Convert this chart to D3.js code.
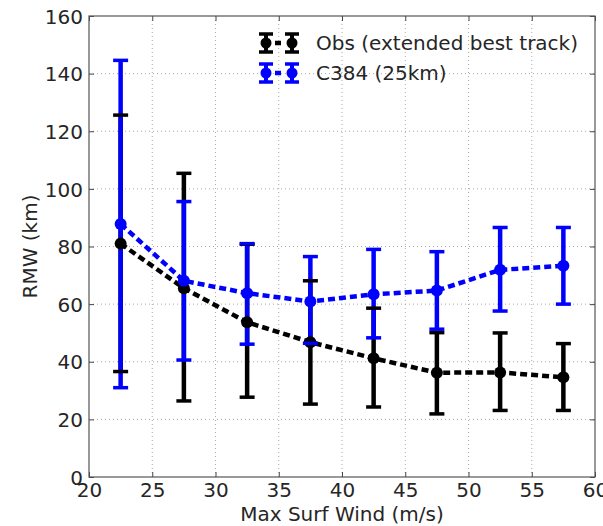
<!DOCTYPE html>
<html>
<head>
<meta charset="utf-8">
<script src="https://cdn.jsdelivr.net/npm/d3@7"></script>
<style>
  body { margin: 0; background: #fff; }
  text { font-family: "DejaVu Sans", sans-serif; fill: #262626; }
</style>
</head>
<body>
<svg id="chart"></svg>
<script>
// data
const windBins = [22.5, 27.5, 32.5, 37.5, 42.5, 47.5, 52.5, 57.5];
const obsMean  = [81.0, 65.5, 53.7, 46.8, 41.2, 36.2, 36.3, 34.6];
const obsLow   = [36.6, 26.4, 27.7, 25.3, 24.3, 21.9, 23.1, 23.1];
const obsHigh  = [125.6, 105.4, 80.8, 68.1, 58.6, 50.1, 50.0, 46.3];
const modMean  = [87.8, 68.1, 63.8, 60.9, 63.4, 64.7, 71.9, 73.3];
const modLow   = [31.0, 40.6, 46.1, 46.4, 48.3, 51.3, 57.6, 60.0];
const modHigh  = [144.6, 95.6, 81.0, 76.5, 79.0, 78.2, 86.6, 86.6];
const xTicks = [20, 25, 30, 35, 40, 45, 50, 55, 60];
const yTicks = [0, 20, 40, 60, 80, 100, 120, 140, 160];
const seriesNames = ["Obs (extended best track)", "C384 (25km)"];

const width = 603, height = 526;
const margin = {top: 16, right: 8, bottom: 49, left: 89};
const w = width - margin.left - margin.right;
const h = height - margin.top - margin.bottom;

const svg = d3.select("#chart").attr("width", width).attr("height", height);
const g = svg.append("g").attr("transform", "translate(" + margin.left + "," + margin.top + ")");

const x = d3.scaleLinear().domain([20, 60]).range([0, w]);
const y = d3.scaleLinear().domain([0, 160]).range([h, 0]);

// grid
g.selectAll(".gx").data(xTicks.slice(1, -1)).enter().append("line")
  .attr("x1", d => x(d)).attr("x2", d => x(d)).attr("y1", 0).attr("y2", h)
  .attr("stroke", "#aaaaaa").attr("stroke-width", 1).attr("stroke-dasharray", "1,3");
g.selectAll(".gy").data(yTicks.slice(1, -1)).enter().append("line")
  .attr("y1", d => y(d)).attr("y2", d => y(d)).attr("x1", 0).attr("x2", w)
  .attr("stroke", "#aaaaaa").attr("stroke-width", 1).attr("stroke-dasharray", "1,3");

// axes (classic style: inward ticks on all sides)
const tickLen = 5;
const fontSize = 20;
const xb = g.append("g").attr("transform", "translate(0," + h + ")")
  .call(d3.axisBottom(x).tickValues(xTicks).tickSizeInner(-tickLen).tickSizeOuter(0).tickPadding(5));
const xt = g.append("g")
  .call(d3.axisTop(x).tickValues(xTicks).tickSizeInner(-tickLen).tickSizeOuter(0).tickFormat(""));
const yl = g.append("g")
  .call(d3.axisLeft(y).tickValues(yTicks).tickSizeInner(-tickLen).tickSizeOuter(0).tickPadding(6));
const yr = g.append("g").attr("transform", "translate(" + w + ",0)")
  .call(d3.axisRight(y).tickValues(yTicks).tickSizeInner(-tickLen).tickSizeOuter(0).tickFormat(""));
[xb, xt, yl, yr].forEach(a => {
  a.select(".domain").remove();
  a.selectAll("line").attr("stroke", "#444");
  a.selectAll("text").style("font-size", fontSize + "px").attr("fill", "#262626")
    .style("font-family", "DejaVu Sans, sans-serif");
});
yl.selectAll("text").attr("dy", "0.36em");
xb.selectAll("text").attr("dy", "0.74em");

g.append("rect").attr("width", w).attr("height", h)
  .attr("fill", "none").attr("stroke", "#555").attr("stroke-width", 1.2);

// series
const series = [
  {mean: obsMean, low: obsLow, high: obsHigh, color: "#000000"},
  {mean: modMean, low: modLow, high: modHigh, color: "#0000ff"}
];
const capW = 15;
const line = d3.line().x((d, i) => x(windBins[i])).y(d => y(d));

// bars first
series.forEach(s => {
  g.selectAll(null).data(windBins).enter().append("line")
    .attr("x1", d => x(d)).attr("x2", d => x(d))
    .attr("y1", (d, i) => y(s.low[i])).attr("y2", (d, i) => y(s.high[i]))
    .attr("stroke", s.color).attr("stroke-width", 4.5);
});
// data lines and markers
series.forEach(s => {
  g.append("path").datum(s.mean).attr("d", line)
    .attr("fill", "none").attr("stroke", s.color).attr("stroke-width", 4.5)
    .attr("stroke-dasharray", "7,4");
  g.selectAll(null).data(windBins).enter().append("circle")
    .attr("cx", d => x(d)).attr("cy", (d, i) => y(s.mean[i])).attr("r", 6)
    .attr("fill", s.color);
});
// caps
series.forEach(s => {
  [s.low, s.high].forEach(arr => {
    g.selectAll(null).data(windBins).enter().append("line")
      .attr("x1", d => x(d) - capW / 2).attr("x2", d => x(d) + capW / 2)
      .attr("y1", (d, i) => y(arr[i])).attr("y2", (d, i) => y(arr[i]))
      .attr("stroke", s.color).attr("stroke-width", 3.5);
  });
});

// legend
const legend = svg.append("g");
series.forEach((s, k) => {
  const ly = 43 + k * 30;
  const row = legend.append("g");
  row.append("line").attr("x1", 266).attr("x2", 292).attr("y1", ly).attr("y2", ly)
    .attr("stroke", s.color).attr("stroke-width", 4.5).attr("stroke-dasharray", "0,9,6,20");
  [266, 292].forEach(cx => {
    row.append("line").attr("x1", cx).attr("x2", cx).attr("y1", ly - 9).attr("y2", ly + 9)
      .attr("stroke", s.color).attr("stroke-width", 4);
    [ly - 9, ly + 9].forEach(cy => {
      row.append("line").attr("x1", cx - 7).attr("x2", cx + 7).attr("y1", cy).attr("y2", cy)
        .attr("stroke", s.color).attr("stroke-width", 3.5);
    });
    row.append("circle").attr("cx", cx).attr("cy", ly).attr("r", 5.5).attr("fill", s.color);
  });
  row.append("text").attr("x", 316).attr("y", ly).attr("dy", "0.36em")
    .style("font-size", "20px").text(seriesNames[k]);
});

// axis titles
svg.append("text").attr("x", margin.left + w / 2).attr("y", 521)
  .attr("text-anchor", "middle").style("font-size", "20px").text("Max Surf Wind (m/s)");
svg.append("text").attr("transform", "translate(37," + (margin.top + h / 2) + ") rotate(-90)")
  .attr("text-anchor", "middle").style("font-size", "20px").text("RMW (km)");
</script>
</body>
</html>
